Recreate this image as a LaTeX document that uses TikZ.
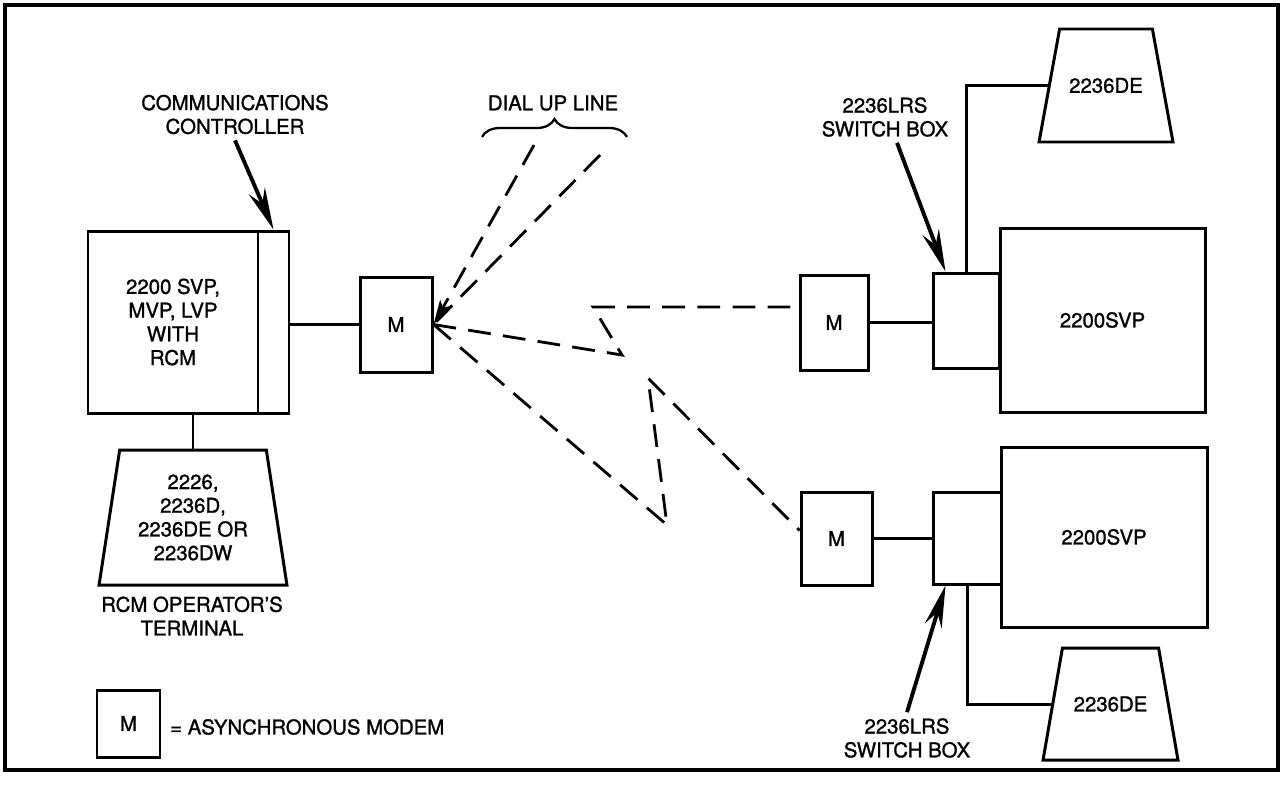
\documentclass[tikz,border=0pt]{standalone}
\usepackage{fontspec}
\setmainfont{TeX Gyre Heros}[FakeBold=1.2]
\usetikzlibrary{shapes.geometric,arrows.meta,decorations.pathreplacing,calc}
\newlength\px
\setlength\px{0.02cm}

\begin{document}
\begin{tikzpicture}[x=0.02cm, y=-0.02cm,
    font=\fontsize{11.6}{13.5}\selectfont,
    box/.style={draw, line width=1.7pt, inner sep=0pt},
    term/.style={draw, line width=1.7pt, trapezium, trapezium stretches=true, inner sep=3pt},
    wire/.style={line width=1.7pt},
    dialup/.style={line width=1.6pt, dash pattern=on 13pt off 7pt},
    pointer/.style={line width=2.2pt, -{Stealth[length=24pt,width=10pt,inset=8pt]}}]
  \useasboundingbox (0,0) rectangle (1283,785);
  \draw[line width=2.2pt] (5,5) rectangle (1278,770);

  % calling end
  \node[box, minimum width=170\px, minimum height=182\px, align=center] (cpu) at (173,322)
    {2200 SVP,\\MVP, LVP\\WITH\\RCM};
  \node[box, minimum width=31\px, minimum height=182\px] (ctrl) at (273.5,322) {};
  \node[box, minimum width=72\px, minimum height=95\px] (m1) at (396,324.5) {M};
  \node[term, minimum width=188\px, minimum height=135\px, trapezium angle=82] (term) at (193,517.5) {};
  \node[align=center] (termtxt) at (term) {2226,\\2236D,\\2236DE OR\\2236DW};
  \node[align=center] (termlbl) at (192,616) {RCM OPERATOR'S\\TERMINAL};
  \node[align=center] (ctrllbl) at (235,114.5) {COMMUNICATIONS\\CONTROLLER};

  \draw[wire] (term.north) -- (term.north |- cpu.south);
  \draw[wire] (m1.west -| ctrl.east) -- (m1.west);
  \draw[pointer] (ctrllbl.south) -- (ctrl.north);

  % dial up line
  \node (diallbl) at (553,103) {DIAL UP LINE};
  \draw[line width=1.3pt, decorate, decoration={brace, amplitude=0.36cm}] (482,137) -- (627,137);
  \coordinate (d1) at (534,145);
  \coordinate (d2) at (600,155);
  \coordinate (z1) at (622,355);
  \coordinate (z2) at (593,307);
  \coordinate (z3) at (667,525);
  \coordinate (z4) at (648,378);

  % upper remote station
  \node[box, minimum width=68\px, minimum height=95\px] (m2) at (834,322.5) {M};
  \node[box, minimum width=66\px, minimum height=95\px] (sw1) at (966,320.5) {};
  \node[box, minimum width=205\px, minimum height=184\px] (svp1) at (1102.5,320) {2200SVP};
  \node[term, minimum width=134\px, minimum height=113\px, trapezium angle=77.5] (de1) at (1106,85.5) {};
  \node (de1txt) at (de1) {2236DE};
  \node[align=center] (lbl1) at (885,117) {2236LRS\\SWITCH BOX};
  \draw[wire] (m2.east) -- (m2.east -| sw1.west);
  \draw[wire] (sw1.north) |- (de1.west);
  \draw[pointer] ([xshift=12\px]lbl1.south) -- ([xshift=14\px]sw1.north west);

  % lower remote station
  \node[box, minimum width=71\px, minimum height=93\px] (m3) at (836.5,538.5) {M};
  \node[box, minimum width=68\px, minimum height=92\px] (sw2) at (967,538) {};
  \node[box, minimum width=206\px, minimum height=180\px] (svp2) at (1104,537) {2200SVP};
  \node[term, minimum width=135\px, minimum height=112\px, trapezium angle=78.6] (de2) at (1110.5,704) {};
  \node (de2txt) at (de2) {2236DE};
  \node[align=center] (lbl2) at (907,738) {2236LRS\\SWITCH BOX};
  \draw[wire] (m3.east) -- (m3.east -| sw2.west);
  \draw[wire] (sw2.south) |- (de2.west);
  \draw[pointer] (lbl2.north) -- ([xshift=14\px]sw2.south west);

  % dashed links
  \draw[dialup, -{Stealth[length=14pt,width=7pt,inset=3pt]}] (d1) -- (m1.east);
  \draw[dialup] (d2) -- (m1.east);
  \draw[dialup] (m1.east) -- (z1) -- (z2) -- (z2 -| m2.west);
  \draw[dialup] (m1.east) -- (z3) -- (z4) -- ($(m3.west)+(0,-8)$);

  % legend
  \node[box, minimum width=63\px, minimum height=67\px] (mkey) at (128.5,723.5) {M};
  \node[anchor=west] (keytxt) at (164,727) {= ASYNCHRONOUS MODEM};
\end{tikzpicture}
\end{document}
